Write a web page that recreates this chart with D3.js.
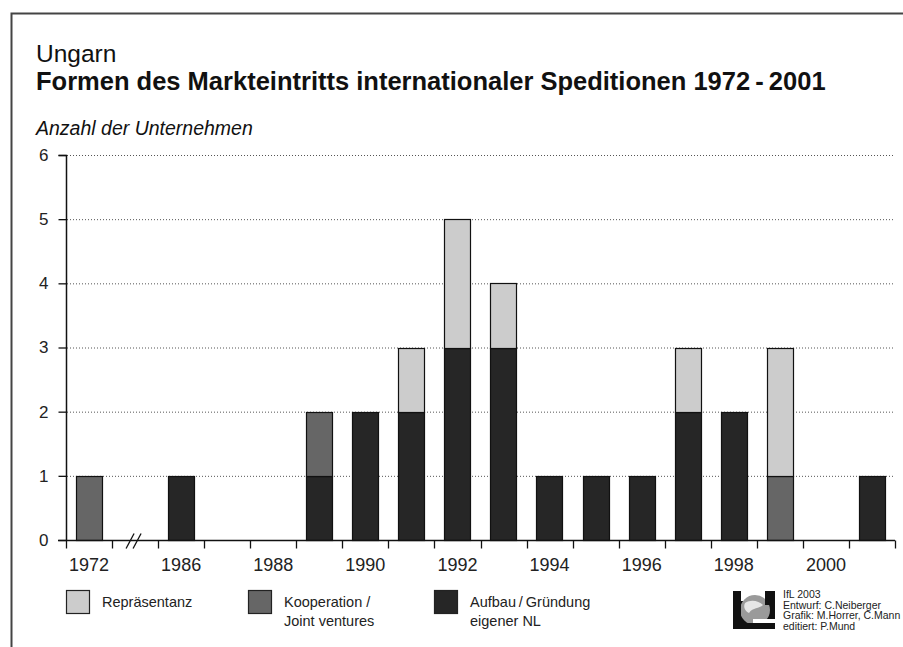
<!DOCTYPE html>
<html>
<head>
<meta charset="utf-8">
<script src="https://cdn.jsdelivr.net/npm/d3@7"></script>
<style>
  body { margin: 0; background: #fff; }
  svg { display: block; font-family: "Liberation Sans", Arial, sans-serif; }
</style>
</head>
<body>
<svg id="chart" width="903" height="647"></svg>
<script>
// slots on the x axis: 1972, a break, then 1986..2001
const years = ["1972", "break", "1986", "1987", "1988", "1989", "1990", "1991", "1992",
  "1993", "1994", "1995", "1996", "1997", "1998", "1999", "2000", "2001"];
const yearLabels = ["1972", "1986", "1988", "1990", "1992", "1994", "1996", "1998", "2000"];

const aufbau        = [0, 0, 1, 0, 0, 1, 2, 2, 3, 3, 1, 1, 1, 2, 2, 0, 0, 1];
const kooperation   = [1, 0, 0, 0, 0, 1, 0, 0, 0, 0, 0, 0, 0, 0, 0, 1, 0, 0];
const repraesentanz = [0, 0, 0, 0, 0, 0, 0, 1, 2, 1, 0, 0, 0, 1, 0, 2, 0, 0];

const yTicks = [0, 1, 2, 3, 4, 5, 6];

const seriesKeys = ["aufbau", "kooperation", "repraesentanz"];
const colors = { aufbau: "#262626", kooperation: "#666666", repraesentanz: "#cccccc" };

const svg = d3.select("#chart");

// frame (right and bottom sides run off the page)
svg.append("rect")
  .attr("x", 11.5).attr("y", 13.5)
  .attr("width", 920).attr("height", 660)
  .attr("fill", "none").attr("stroke", "#444").attr("stroke-width", 2);

// titles
svg.append("text").attr("x", 36).attr("y", 62)
  .attr("font-size", 24.5).attr("fill", "#111").text("Ungarn");
svg.append("text").attr("x", 36).attr("y", 90)
  .attr("font-size", 25.5).attr("font-weight", "bold").attr("fill", "#111")
  .text("Formen des Markteintritts internationaler Speditionen 1972\u2009-\u20092001");
svg.append("text").attr("x", 36).attr("y", 135)
  .attr("font-size", 19.5).attr("font-style", "italic").attr("fill", "#111")
  .text("Anzahl der Unternehmen");

const x = d3.scaleBand().domain(years).range([66, 895]).paddingInner(0.43).paddingOuter(0.215);
const slot = d3.scaleBand().domain(years).range([66, 895]);
const y = d3.scaleLinear().domain([0, 6]).range([540, 155]);

// gridlines
svg.append("g")
  .selectAll("line")
  .data(yTicks.filter(d => d > 0))
  .join("line")
  .attr("x1", 67).attr("x2", 895)
  .attr("y1", d => y(d) + 0.5).attr("y2", d => y(d) + 0.5)
  .attr("stroke", "#555").attr("stroke-width", 1).attr("stroke-dasharray", "1,2");

// stacked bars
const table = years.map((yr, i) => ({
  year: yr, aufbau: aufbau[i], kooperation: kooperation[i], repraesentanz: repraesentanz[i]
}));
const stacked = d3.stack().keys(seriesKeys)(table);

svg.append("g")
  .selectAll("g")
  .data(stacked)
  .join("g")
  .attr("fill", d => colors[d.key])
  .selectAll("rect")
  .data(d => d.filter(s => s[1] - s[0] > 0))
  .join("rect")
  .attr("x", d => Math.round(x(d.data.year)) + 0.5)
  .attr("width", Math.round(x.bandwidth()))
  .attr("y", d => Math.round(y(d[1])) + 0.5)
  .attr("height", d => Math.round(y(d[0])) - Math.round(y(d[1])))
  .attr("stroke", "#111").attr("stroke-width", 1.2);

// y axis
const yAxis = svg.append("g")
  .attr("transform", "translate(66.5,0)")
  .call(d3.axisLeft(y).tickValues(yTicks).tickSize(8).tickPadding(10).tickFormat(d3.format("d")));
yAxis.select(".domain").attr("stroke", "#111").attr("stroke-width", 1.5).attr("d", "M-8,155.5H0V540.5");
yAxis.selectAll(".tick line").attr("stroke", "#111").attr("stroke-width", 1.3);
yAxis.selectAll(".tick text").attr("font-size", 17).attr("fill", "#222")
  .attr("font-family", "Liberation Sans, Arial, sans-serif");

// x axis: tick marks on slot edges, labels centred on slots
const edges = years.map(d => slot(d)).concat([895]);
const xAxis = svg.append("g").attr("transform", "translate(0,540.5)");
xAxis.append("line").attr("x1", 58).attr("x2", 895).attr("stroke", "#111").attr("stroke-width", 1.5);
xAxis.selectAll("line.tick")
  .data(edges)
  .join("line")
  .attr("class", "tick")
  .attr("x1", d => Math.round(d) + 0.5).attr("x2", d => Math.round(d) + 0.5)
  .attr("y1", 0).attr("y2", 8)
  .attr("stroke", "#111").attr("stroke-width", 1.3);
xAxis.selectAll("text")
  .data(yearLabels)
  .join("text")
  .attr("x", d => slot(d) + slot.bandwidth() / 2)
  .attr("y", 30)
  .attr("text-anchor", "middle")
  .attr("font-size", 18).attr("fill", "#222")
  .text(d => d);

// axis break "//"
const bx = slot("break") + slot.bandwidth() / 2;
[-4, 3].forEach(o => {
  xAxis.append("line")
    .attr("x1", bx + o - 5).attr("y1", 8)
    .attr("x2", bx + o + 3).attr("y2", -7)
    .attr("stroke", "#111").attr("stroke-width", 1.3);
});

// legend
const legend = [
  { key: "repraesentanz", x: 66, lines: ["Repräsentanz"] },
  { key: "kooperation", x: 248, lines: ["Kooperation /", "Joint ventures"] },
  { key: "aufbau", x: 434, lines: ["Aufbau\u2009/\u2009Gründung", "eigener NL"] }
];
const lg = svg.append("g").selectAll("g").data(legend).join("g")
  .attr("transform", d => `translate(${d.x},590)`);
lg.append("rect")
  .attr("x", 0.5).attr("y", 0.5).attr("width", 23).attr("height", 23)
  .attr("fill", d => colors[d.key]).attr("stroke", "#222").attr("stroke-width", 1.2);
lg.selectAll("text")
  .data(d => d.lines)
  .join("text")
  .attr("x", 36).attr("y", (d, i) => 17 + i * 19)
  .attr("font-size", 14.5).attr("fill", "#222")
  .text(d => d);

// institute logo (rough sketch)
const logo = svg.append("g").attr("transform", "translate(733,591)");
logo.append("rect").attr("x", 0).attr("y", 0).attr("width", 42).attr("height", 38).attr("fill", "#111");
logo.append("rect").attr("x", 8).attr("y", 0).attr("width", 24).attr("height", 10).attr("fill", "#fff");
logo.append("circle").attr("cx", 22).attr("cy", 19).attr("r", 15).attr("fill", "#9a9a9a");
logo.append("path").attr("d", "M12,12 C18,8 26,10 30,14 C26,18 20,16 16,22 C12,20 10,16 12,12Z").attr("fill", "#e6e6e6");
logo.append("rect").attr("x", 0).attr("y", 0).attr("width", 8).attr("height", 38).attr("fill", "#111");
logo.append("rect").attr("x", 32).attr("y", 0).attr("width", 10).attr("height", 14).attr("fill", "#111");
logo.append("rect").attr("x", 20).attr("y", 28).attr("width", 22).attr("height", 4).attr("fill", "#fff");
logo.append("rect").attr("x", 8).attr("y", 32).attr("width", 34).attr("height", 6).attr("fill", "#111");

const credits = ["IfL 2003", "Entwurf: C.Neiberger", "Grafik: M.Horrer, C.Mann", "editiert: P.Mund"];
svg.append("g").selectAll("text").data(credits).join("text")
  .attr("x", 783).attr("y", (d, i) => 598 + i * 10.7)
  .attr("font-size", 10.5).attr("fill", "#222")
  .text(d => d);
</script>
</body>
</html>
